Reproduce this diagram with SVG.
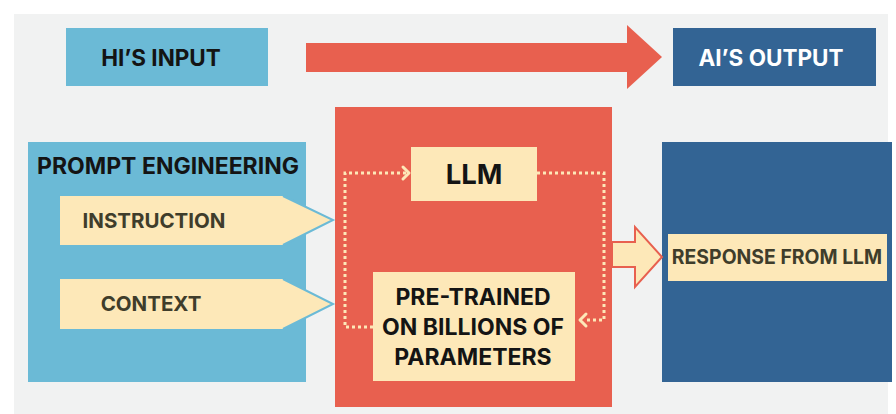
<svg xmlns="http://www.w3.org/2000/svg" width="896" height="414" viewBox="0 0 896 414">
  <defs>
    <style>
      .t { font-family: Inter, "Liberation Sans", Arial, sans-serif; font-weight: 700; text-anchor: middle; dominant-baseline: central; }
      .dark { fill: #141414; }
      .olive { fill: #3f3d2b; }
      .light { fill: #ffffff; }
      .sky { fill: #6bbad6; }
      .navy { fill: #336494; }
      .coral { fill: #e8604f; }
      .cream { fill: #fde8b8; }
      .dots { fill: none; stroke: #fde8b8; stroke-width: 3; stroke-dasharray: 3 3; }
      .chev { fill: none; stroke: #fde8b8; stroke-width: 3; stroke-linecap: round; stroke-linejoin: round; }
    </style>
  </defs>

  <rect x="0" y="0" width="896" height="414" fill="#ffffff"/>
  <rect x="14" y="14" width="874" height="400" fill="#f1f2f2"/>

  <g id="his-input">
    <rect class="sky" x="66" y="28" width="202" height="58"/>
    <text class="t dark" x="161" y="57" font-size="22.5">HI’S INPUT</text>
  </g>

  <g id="ais-output">
    <rect class="navy" x="673" y="28" width="203" height="58"/>
    <text class="t light" x="771" y="57" font-size="22.5">AI’S OUTPUT</text>
  </g>

  <g id="prompt-engineering">
    <rect class="sky" x="28" y="142" width="278" height="240"/>
    <text class="t dark" x="168" y="166" font-size="23">PROMPT ENGINEERING</text>
  </g>

  <g id="instruction">
    <path d="M60 196 H283 L333 220 L283 245 H60 Z" class="cream"/>
    <path d="M283 196 L333 220 L283 245" fill="none" stroke="#6bbad6" stroke-width="2"/>
    <text class="t olive" x="154" y="220" font-size="20.5">INSTRUCTION</text>
  </g>

  <g id="context">
    <path d="M60 279 H283 L333 304 L283 329 H60 Z" class="cream"/>
    <path d="M283 279 L333 304 L283 329" fill="none" stroke="#6bbad6" stroke-width="2"/>
    <text class="t olive" x="151" y="303" font-size="20.5">CONTEXT</text>
  </g>

  <g id="model">
    <rect class="coral" x="335" y="107" width="277" height="300"/>
  </g>

  <g id="llm">
    <rect class="cream" x="411" y="147" width="126" height="54"/>
    <text class="t dark" x="474" y="174" font-size="27.5">LLM</text>
  </g>

  <g id="pre-trained">
    <rect class="cream" x="373" y="272" width="202" height="109"/>
    <text class="t dark" x="473" y="297" font-size="23">PRE-TRAINED</text>
    <text class="t dark" x="473" y="327" font-size="23">ON BILLIONS OF</text>
    <text class="t dark" x="473" y="357" font-size="23">PARAMETERS</text>
  </g>

  <g id="response-panel">
    <rect class="navy" x="662" y="142" width="230" height="240"/>
  </g>

  <g id="response">
    <rect class="cream" x="668" y="234" width="219" height="47"/>
    <text class="t olive" x="777" y="257" font-size="19.4">RESPONSE FROM LLM</text>
  </g>

  <g id="connectors">
    <!-- input to output flow -->
    <path class="coral" d="M306 43 H627 V25 L662 57 L627 89 V72 H306 Z"/>
    <!-- model to response -->
    <path d="M612 242 H635 V227 L662 257 L635 287 V267 H612 Z" class="cream" stroke="#e8604f" stroke-width="2" stroke-linejoin="miter"/>
    <!-- knowledge feeds the model -->
    <path class="dots" d="M373 327 H345 V173 H406"/>
    <path class="chev" d="M403 167 L409 173 L403 179"/>
    <!-- model output loops back -->
    <path class="dots" d="M537 173 H604 V320 H584"/>
    <path class="chev" d="M586 314 L580 320 L586 326"/>
  </g>
</svg>
